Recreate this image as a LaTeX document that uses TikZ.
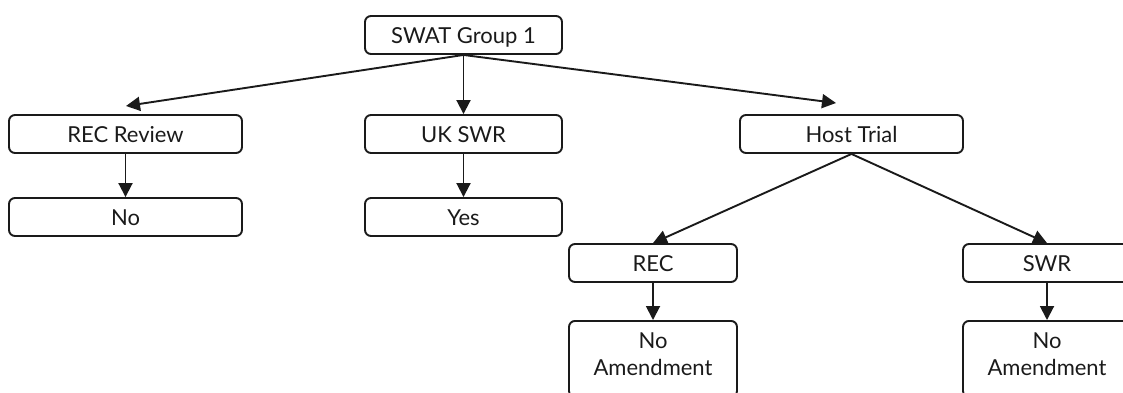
\documentclass[tikz,border=0pt]{standalone}
\usepackage{fontspec}
\setmainfont{Lato}
\usetikzlibrary{arrows.meta}
\definecolor{ink}{HTML}{1A1A1A}
\tikzset{
  box/.style={draw=ink, line width=1.9pt, rounded corners=6pt, inner sep=0pt,
    text=ink, font=\fontsize{22}{27}\selectfont, align=center,
    text height=17.8pt, text depth=0pt},
  twoline/.style={text height=44.8pt, text depth=10.8pt},
  conn/.style={draw=ink, line width=1.9pt, -{Triangle[length=14pt,width=14pt]}}
}
\begin{document}
\begin{tikzpicture}[x=1pt,y=-1pt]
\useasboundingbox (0,0) rectangle (1123,392);
\clip (0,0) rectangle (1123,392);
\node[box, minimum width=197pt, minimum height=38pt] (swat) at (463.5,35) {SWAT Group 1};
\node[box, minimum width=233pt, minimum height=38pt] (recrev) at (125.5,134) {REC Review};
\node[box, minimum width=197pt, minimum height=38pt] (uk) at (463.5,134) {UK SWR};
\node[box, minimum width=223pt, minimum height=38pt] (host) at (851.5,134) {Host Trial};
\node[box, minimum width=233pt, minimum height=38pt] (no) at (125.5,217) {No};
\node[box, minimum width=197pt, minimum height=38pt] (yes) at (463.5,217) {Yes};
\node[box, minimum width=168pt, minimum height=38pt] (rec) at (653,263) {REC};
\node[box, minimum width=168pt, minimum height=38pt] (swr) at (1047,263) {SWR};
\node[box, twoline, minimum width=168pt, minimum height=76pt, anchor=north] (na1) at (653,320) {No\\Amendment};
\node[box, twoline, minimum width=168pt, minimum height=76pt, anchor=north] (na2) at (1047,320) {No\\Amendment};
\coordinate (e1) at (126,106);
\coordinate (e3) at (836,103);
\draw[conn] (swat.south) -- (e1);
\draw[conn] (swat.south) -- (uk.north);
\draw[conn] (swat.south) -- (e3);
\draw[conn] (recrev.south) -- (no.north);
\draw[conn] (uk.south) -- (yes.north);
\draw[conn] (host.south) -- (rec.north);
\draw[conn] (host.south) -- (swr.north);
\draw[conn] (rec.south) -- (na1.north);
\draw[conn] (swr.south) -- (na2.north);
\end{tikzpicture}
\end{document}
